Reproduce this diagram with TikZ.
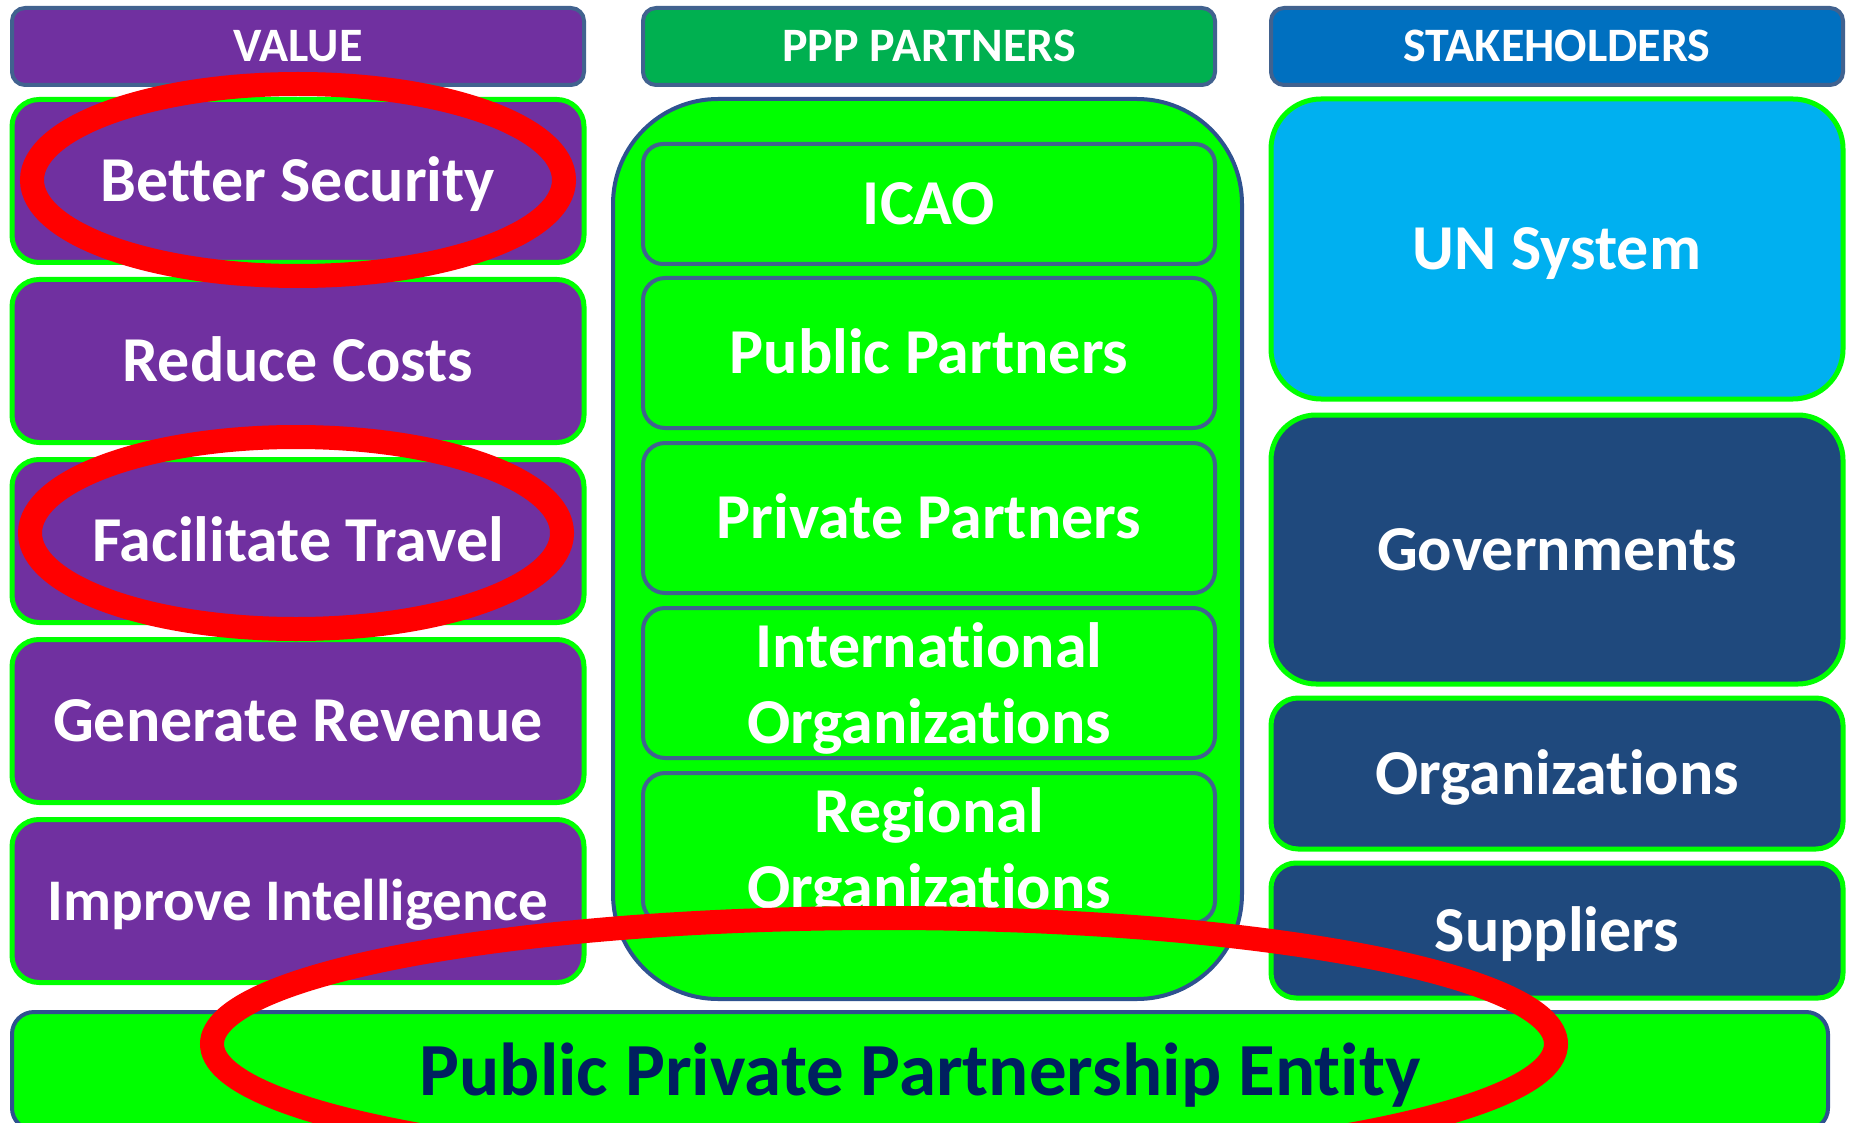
\documentclass[tikz,border=0pt]{standalone}
\usepackage{fontspec}
\setmainfont{Carlito}[Ligatures=NoCommon]
\usepackage{tikz}
\usetikzlibrary{calc}
\definecolor{valpurple}{HTML}{7030A0}
\definecolor{pppgreen}{HTML}{00B050}
\definecolor{stakeblue}{HTML}{0070C0}
\definecolor{unblue}{HTML}{00B0F0}
\definecolor{darkblue}{HTML}{1F497D}
\definecolor{brightgreen}{HTML}{00FF00}
\definecolor{hdline}{HTML}{41628F}
\definecolor{boxline}{HTML}{2F528F}
\definecolor{entitynavy}{HTML}{002060}
\newcommand\headfont{\fontsize{48}{58}\selectfont\bfseries}
\newcommand\boxfont{\fontsize{64}{76}\selectfont\bfseries}

\begin{document}
\begin{tikzpicture}[x=1pt,y=-1pt,
  head/.style={draw=hdline,line width=4pt,rounded corners=13pt,minimum width=572pt,minimum height=77pt,text=white,font=\headfont,text height=31pt,text depth=0pt},
  valbox/.style={draw=brightgreen,fill=valpurple,line width=5pt,rounded corners=27pt,minimum width=572pt,minimum height=163pt,text=white,font=\boxfont,text height=41pt,text depth=0pt},
  pppbox/.style={draw=hdline,fill=brightgreen,line width=4pt,rounded corners=22pt,minimum width=572pt,minimum height=150pt,text=white,font=\boxfont,align=center},
  stakebox/.style={draw=brightgreen,fill=darkblue,line width=5pt,minimum width=572pt,text=white,font=\boxfont,text height=41pt,text depth=0pt},
  mark ring/.style={draw=red,line width=24pt}]
  \useasboundingbox (0,0) rectangle (1849,1123);
  \clip (0,0) rectangle (1849,1123);
  % column headers
  \draw(298,46.5) node[head,fill=valpurple] (value) {VALUE};
  \draw(929,46.5) node[head,fill=pppgreen] (partners) {PPP PARTNERS};
  \draw(1557,46.5) node[head,fill=stakeblue] (stake) {STAKEHOLDERS};
  % value column
  \draw(298,181) node[valbox] (security) {Better Security};
  \draw(298,361) node[valbox] (costs) {Reduce Costs};
  \draw(298,541) node[valbox] (travel) {Facilitate Travel};
  \draw(298,721) node[valbox] (revenue) {Generate Revenue};
  \draw(298,901) node[valbox,font=\fontsize{59}{70}\selectfont\bfseries,text height=38pt] (intel) {Improve Intelligence};
  % partners column
  \draw(927.5,549) node[draw=boxline,fill=brightgreen,line width=4pt,rounded corners=105pt,minimum width=629pt,minimum height=900pt] (pppframe) {};
  \draw(929,204) node[pppbox,minimum height=120pt,rounded corners=20pt,text height=41pt,text depth=0pt] (icao) {ICAO};
  \draw(929,353) node[pppbox,text height=41pt,text depth=0pt] (public) {Public Partners};
  \draw(929,518) node[pppbox,text height=41pt,text depth=0pt] (private) {Private Partners};
  \draw(929,683) node[pppbox] (intorg) {};
  \draw(929,848) node[pppbox] (regorg) {};
  \node[text=white,font=\boxfont,align=center] at ($(intorg.center)+(0,5)$) {International\\Organizations};
  \node[text=white,font=\boxfont,align=center] at ($(regorg.center)+(0,5)$) {Regional\\Organizations};
  % stakeholders column
  \draw(1557,249) node[stakebox,fill=unblue,minimum height=300pt,rounded corners=50pt] (un) {UN System};
  \draw(1557,549.5) node[stakebox,minimum height=269pt,rounded corners=45pt] (gov) {Governments};
  \draw(1557,773.5) node[stakebox,minimum height=151pt,rounded corners=27pt] (orgs) {Organizations};
  \draw(1557,930.5) node[stakebox,minimum height=135pt,rounded corners=25pt] (suppliers) {Suppliers};
  % entity bar
  \draw(920,1071) node[draw=boxline,fill=brightgreen,line width=4pt,rounded corners=22pt,minimum width=1816pt,minimum height=118pt,text=entitynavy,font=\fontsize{75}{90}\selectfont\bfseries,text height=48pt,text depth=0pt] (entity) {Public Private Partnership Entity};
  % red rings
  \draw[mark ring] ($(security.center)+(0,-1)$) ellipse [x radius=266, y radius=96];
  \draw[mark ring] ($(travel.center)+(-2,-8)$) ellipse [x radius=266, y radius=96];
  \draw[mark ring] ($(entity.center)+(-36,-27)$) ellipse [x radius=672, y radius=126];
\end{tikzpicture}
\end{document}
